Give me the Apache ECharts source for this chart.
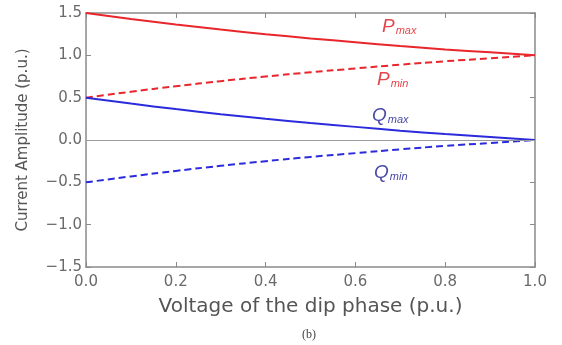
<!DOCTYPE html>
<html><head><meta charset="utf-8">
<script src="https://cdn.jsdelivr.net/npm/echarts@6/dist/echarts.min.js"></script>
<style>html,body{margin:0;padding:0;background:#fff}#c{width:562px;height:345px}</style>
</head><body><div id="c"></div>
<script>
const voltage = [0, 0.1, 0.2, 0.3, 0.4, 0.5, 0.6, 0.7, 0.8, 0.9, 1.0];
const pMax = [1.5, 1.43, 1.365, 1.305, 1.25, 1.2, 1.155, 1.11, 1.07, 1.035, 1.0];
const pMin = [0.5, 0.57, 0.635, 0.695, 0.75, 0.8, 0.845, 0.89, 0.93, 0.965, 1.0];
const qMax = [0.5, 0.43, 0.365, 0.305, 0.25, 0.2, 0.155, 0.11, 0.07, 0.035, 0.0];
const qMin = [-0.5, -0.43, -0.365, -0.305, -0.25, -0.2, -0.155, -0.11, -0.07, -0.035, 0.0];
const xTicks = [0, 0.2, 0.4, 0.6, 0.8, 1.0];
const yTicks = [-1.5, -1.0, -0.5, 0, 0.5, 1.0, 1.5];

const RED = '#e8262b', BLUE = '#2b2bdc';
const pair = (xs, ys) => xs.map((x, i) => [x, ys[i]]);
const fmt = v => (v < 0 ? '\u2212' : '') + Math.abs(v).toFixed(1);
const axisCol = '#8a8a8a';
const lbl = {color: '#6a6a6a', fontFamily: 'DejaVu Sans', fontSize: 15};

const chart = echarts.init(document.getElementById('c'), null, {renderer: 'canvas'});
const baseX = {type: 'value', min: xTicks[0], max: xTicks[xTicks.length - 1], interval: 0.2,
  axisLine: {show: true, onZero: false, lineStyle: {color: axisCol, width: 1.5}},
  axisTick: {show: true, inside: true, length: 5, lineStyle: {color: axisCol}},
  splitLine: {show: false}};
const baseY = {type: 'value', min: yTicks[0], max: yTicks[yTicks.length - 1], interval: 0.5,
  axisLine: {show: true, onZero: false, lineStyle: {color: axisCol, width: 1.5}},
  axisTick: {show: true, inside: true, length: 5, lineStyle: {color: axisCol}},
  splitLine: {show: false}};

chart.setOption({
  animation: false,
  grid: {left: 86, right: 27, top: 13, bottom: 78},
  xAxis: [
    Object.assign({}, baseX, {position: 'bottom',
      axisLabel: Object.assign({}, lbl, {margin: 8, formatter: fmt}),
      name: 'Voltage of the dip phase (p.u.)', nameLocation: 'middle', nameGap: 30,
      nameTextStyle: {color: '#555', fontFamily: 'DejaVu Sans', fontSize: 20}}),
    Object.assign({}, baseX, {position: 'top', axisLabel: {show: false}})
  ],
  yAxis: [
    Object.assign({}, baseY, {position: 'left',
      axisLabel: Object.assign({}, lbl, {margin: 4, formatter: fmt}),
      name: 'Current Amplitude (p.u.)', nameLocation: 'middle', nameGap: 55,
      nameTextStyle: {color: '#555', fontFamily: 'DejaVu Sans', fontSize: 15}}),
    Object.assign({}, baseY, {position: 'right', axisLabel: {show: false}})
  ],
  series: [
    {type: 'line', data: pair(voltage, pMax), smooth: true, symbol: 'none',
     lineStyle: {color: RED, width: 2}, z: 3,
     markLine: {silent: true, symbol: 'none', label: {show: false},
       lineStyle: {color: '#9a9a9a', width: 1.2, type: 'solid'}, data: [{yAxis: 0}]}},
    {type: 'line', data: pair(voltage, pMin), smooth: true, symbol: 'none',
     lineStyle: {color: RED, width: 2, type: [7, 4]}, z: 3},
    {type: 'line', data: pair(voltage, qMax), smooth: true, symbol: 'none',
     lineStyle: {color: BLUE, width: 2}, z: 3},
    {type: 'line', data: pair(voltage, qMin), smooth: true, symbol: 'none',
     lineStyle: {color: BLUE, width: 2, type: [7, 4]}, z: 3}
  ],
  graphic: [
    {type: 'text', left: 382, top: 17, style: {text: '{a|P}{b|max}', rich: {
      a: {fontFamily: 'Liberation Sans', fontStyle: 'italic', fontSize: 19, fill: '#e2474b'},
      b: {fontFamily: 'Liberation Sans', fontStyle: 'italic', fontSize: 11, fill: '#e2474b', padding: [8, 0, 0, 1]}}}},
    {type: 'text', left: 377, top: 70, style: {text: '{a|P}{b|min}', rich: {
      a: {fontFamily: 'Liberation Sans', fontStyle: 'italic', fontSize: 19, fill: '#e2474b'},
      b: {fontFamily: 'Liberation Sans', fontStyle: 'italic', fontSize: 11, fill: '#e2474b', padding: [8, 0, 0, 1]}}}},
    {type: 'text', left: 372, top: 106, style: {text: '{a|Q}{b|max}', rich: {
      a: {fontFamily: 'Liberation Sans', fontStyle: 'italic', fontSize: 19, fill: '#4a4aa8'},
      b: {fontFamily: 'Liberation Sans', fontStyle: 'italic', fontSize: 11, fill: '#4a4aa8', padding: [8, 0, 0, 1]}}}},
    {type: 'text', left: 374, top: 163, style: {text: '{a|Q}{b|min}', rich: {
      a: {fontFamily: 'Liberation Sans', fontStyle: 'italic', fontSize: 19, fill: '#4a4aa8'},
      b: {fontFamily: 'Liberation Sans', fontStyle: 'italic', fontSize: 11, fill: '#4a4aa8', padding: [8, 0, 0, 1]}}}},
    {type: 'text', left: 302, top: 329, style: {text: '(b)', fontFamily: 'Liberation Serif', fontSize: 12, fill: '#444'}}
  ]
});
</script></body></html>
